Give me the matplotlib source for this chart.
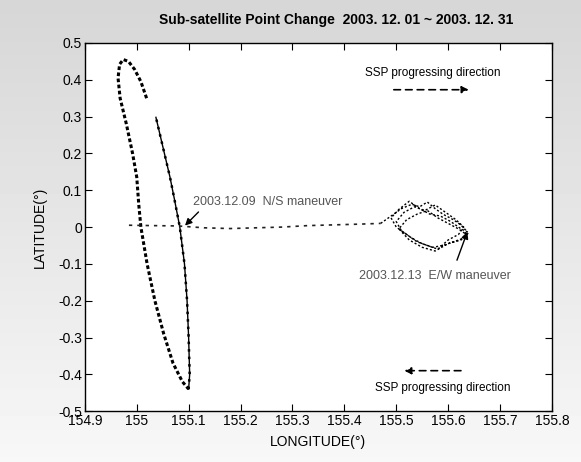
import numpy as np
import matplotlib
matplotlib.use("Agg")
import matplotlib.pyplot as plt
from matplotlib.ticker import FuncFormatter

plt.rcParams['font.family'] = ['Liberation Sans', 'DejaVu Sans']

# outer loop of the N/S drift (thick dotted)
outer_lon = [155.019, 155.008, 154.996, 154.984, 154.974, 154.967, 154.964, 154.968,
             154.980, 154.992, 155.000, 155.004, 155.008, 155.020, 155.035, 155.052,
             155.070, 155.088, 155.100]
outer_lat = [0.350, 0.395, 0.428, 0.450, 0.455, 0.442, 0.405, 0.350,
             0.280, 0.200, 0.136, 0.060, 0.000, -0.100, -0.200, -0.290,
             -0.370, -0.420, -0.440]

# return leg after the bottom of the loop (thin line)
inner_lon = [155.100, 155.102, 155.100, 155.097, 155.092, 155.083, 155.072, 155.064, 155.050, 155.037]
inner_lat = [-0.440, -0.400, -0.300, -0.200, -0.100, 0.000, 0.080, 0.136, 0.220, 0.298]

# nearly flat track after the N/S maneuver
flat_lon = [154.985, 155.03, 155.08, 155.13, 155.18, 155.23, 155.28, 155.33, 155.38, 155.43, 155.47]
flat_lat = [0.005, 0.004, 0.003, -0.002, -0.004, -0.002, 0.000, 0.004, 0.006, 0.008, 0.010]

# tangled daily loops around the E/W maneuver
clus_lon = [155.47, 155.49, 155.51, 155.53, 155.545, 155.56, 155.575, 155.59, 155.61, 155.625,
            155.635, 155.63, 155.61, 155.59, 155.57, 155.55, 155.53, 155.51, 155.50, 155.515,
            155.535, 155.555, 155.575, 155.595, 155.615, 155.63, 155.62, 155.60, 155.58, 155.56,
            155.54, 155.52, 155.50, 155.49, 155.505, 155.525, 155.545, 155.565, 155.585, 155.605,
            155.625, 155.64, 155.625, 155.60, 155.575, 155.55, 155.525, 155.505, 155.52, 155.54,
            155.56, 155.58, 155.60, 155.62, 155.635]
clus_lat = [0.010, 0.030, 0.050, 0.062, 0.055, 0.068, 0.050, 0.035, 0.020, 0.005,
            -0.010, -0.030, -0.040, -0.050, -0.055, -0.045, -0.030, -0.010, 0.015, 0.040,
            0.055, 0.045, 0.060, 0.040, 0.020, 0.000, -0.020, -0.035, -0.060, -0.050,
            -0.040, -0.020, 0.000, 0.025, 0.048, 0.070, 0.050, 0.035, 0.030, 0.015,
            -0.005, -0.015, -0.035, -0.045, -0.065, -0.055, -0.035, -0.005, 0.020, 0.035,
            0.045, 0.025, 0.010, -0.005, -0.020]

xticks = [154.9, 155.0, 155.1, 155.2, 155.3, 155.4, 155.5, 155.6, 155.7, 155.8]
yticks = [0.5, 0.4, 0.3, 0.2, 0.1, 0.0, -0.1, -0.2, -0.3, -0.4, -0.5]

fig = plt.figure(figsize=(5.81, 4.62), dpi=100)

# scanned-paper look: grey at top fading out lower down
bg = fig.add_axes([0, 0, 1, 1], zorder=-10)
bg.imshow(np.linspace(0.84, 0.97, 100)[:, None], cmap='gray', vmin=0, vmax=1,
          aspect='auto', extent=[0, 1, 0, 1], origin='upper')
bg.axis('off')

ax = fig.add_axes([0.146, 0.110, 0.804, 0.797])
ax.set_facecolor('white')

ax.plot(outer_lon, outer_lat, color='black', lw=2.2, ls=(0, (1.2, 0.8)))
ax.plot(inner_lon, inner_lat, color='black', lw=1.0)
ax.plot(inner_lon, inner_lat, color='black', lw=1.8, ls=(0, (1, 2)))
ax.plot(flat_lon, flat_lat, color='#222222', lw=1.2, ls=(0, (2, 3)))
ax.plot(clus_lon, clus_lat, color='black', lw=1.0, ls=(0, (1.5, 1.5)))

ax.text(155.108, 0.068, '2003.12.09  N/S maneuver', fontsize=9, color='#555555', va='center')
ax.annotate('', xy=(155.093, 0.004), xytext=(155.119, 0.041),
            arrowprops=dict(arrowstyle='-|>', color='black', lw=1, shrinkA=0, shrinkB=0))
ax.text(155.72, -0.132, '2003.12.13  E/W maneuver', fontsize=9, color='#555555',
        va='center', ha='right')
ax.annotate('', xy=(155.637, -0.013), xytext=(155.617, -0.09),
            arrowprops=dict(arrowstyle='-|>', color='black', lw=1, shrinkA=0, shrinkB=0))

ax.text(155.44, 0.419, 'SSP progressing direction', fontsize=8.5, va='center')
ax.annotate('', xy=(155.645, 0.373), xytext=(155.49, 0.373),
            arrowprops=dict(arrowstyle='-|>', color='black', lw=1.2, ls=(0, (4, 3))))
ax.text(155.46, -0.437, 'SSP progressing direction', fontsize=8.5, va='center')
ax.annotate('', xy=(155.51, -0.39), xytext=(155.63, -0.39),
            arrowprops=dict(arrowstyle='-|>', color='black', lw=1.2, ls=(0, (4, 3))))

ax.set_xlim(154.9, 155.8)
ax.set_ylim(-0.5, 0.5)
ax.set_xticks(xticks)
ax.set_yticks(yticks)
fmt = FuncFormatter(lambda v, p: '%g' % round(v, 2))
ax.xaxis.set_major_formatter(fmt)
ax.yaxis.set_major_formatter(fmt)
ax.tick_params(direction='in', top=True, right=True, length=5, labelsize=10, pad=2)
for s in ax.spines.values():
    s.set_linewidth(1.0)

ax.set_xlabel('LONGITUDE(°)', fontsize=10)
ax.set_ylabel('LATITUDE(°)', fontsize=10)
ax.xaxis.set_label_coords(0.5, -0.065)
ax.yaxis.set_label_coords(-0.082, 0.5)
fig.text(336 / 581, 1 - 20 / 462, 'Sub-satellite Point Change  2003. 12. 01 ~ 2003. 12. 31',
         fontsize=10, fontweight='bold', ha='center', va='center')

fig.savefig('out.png', dpi=100)
